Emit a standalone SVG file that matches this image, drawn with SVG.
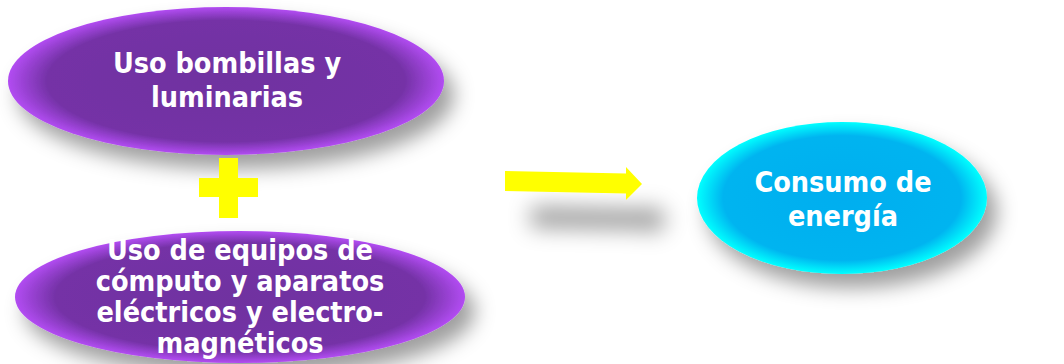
<svg xmlns="http://www.w3.org/2000/svg" width="1064" height="364" viewBox="0 0 1064 364">
<defs>
<radialGradient id="gPurple" cx="0.5" cy="0.5" r="0.5">
<stop offset="0" stop-color="#7030A0"/>
<stop offset="0.82" stop-color="#7432A6"/>
<stop offset="1" stop-color="#B24CF2"/>
</radialGradient>
<radialGradient id="gCyan" cx="0.5" cy="0.5" r="0.5">
<stop offset="0" stop-color="#00AEEF"/>
<stop offset="0.82" stop-color="#00B4F0"/>
<stop offset="1" stop-color="#00FFFF"/>
</radialGradient>
<filter id="shadow" x="-20%" y="-20%" width="150%" height="170%">
<feDropShadow dx="10" dy="14" stdDeviation="10" flood-color="#000" flood-opacity="0.38"/>
</filter>
<filter id="arrowShadow" x="-40%" y="-150%" width="190%" height="600%">
<feGaussianBlur in="SourceAlpha" stdDeviation="11" result="b"/>
<feOffset in="b" dx="26" dy="36" result="o"/>
<feFlood flood-color="#000" flood-opacity="0.4"/>
<feComposite in2="o" operator="in" result="s"/>
<feMerge><feMergeNode in="s"/><feMergeNode in="SourceGraphic"/></feMerge>
</filter>
<style>
.lbl{font-family:"DejaVu Sans Condensed","DejaVu Sans",sans-serif;font-stretch:condensed;font-weight:bold;font-size:28.5px;fill:#FFFFFF;text-anchor:middle}
.sym{fill:#FFFF00}
</style>
</defs>
<rect width="1064" height="364" fill="#FFFFFF"/>
<g id="node-bombillas">
<ellipse cx="226" cy="81" rx="218" ry="74" fill="url(#gPurple)" filter="url(#shadow)"/>
<text class="lbl" x="227" y="73">Uso bombillas y</text>
<text class="lbl" x="227" y="107">luminarias</text>
</g>
<g id="node-equipos">
<ellipse cx="240" cy="297" rx="225" ry="66" fill="url(#gPurple)" filter="url(#shadow)"/>
<text class="lbl" x="240" y="260">Uso de equipos de</text>
<text class="lbl" x="240" y="291">cómputo y aparatos</text>
<text class="lbl" x="240" y="322">eléctricos y electro-</text>
<text class="lbl" x="240" y="353">magnéticos</text>
</g>
<g id="node-consumo">
<ellipse cx="842" cy="198" rx="145" ry="76" fill="url(#gCyan)" filter="url(#shadow)"/>
<text class="lbl" x="843" y="192">Consumo de</text>
<text class="lbl" x="843" y="226">energía</text>
</g>
<g id="connectors">
<path class="sym" d="M219 158H238V178H258V197H238V218H219V197H199V178H219Z"/>
<path class="sym" filter="url(#arrowShadow)" d="M505 171L626 173.5V167L642 184L626 200V193.5L505 191Z"/>
</g>
</svg>
